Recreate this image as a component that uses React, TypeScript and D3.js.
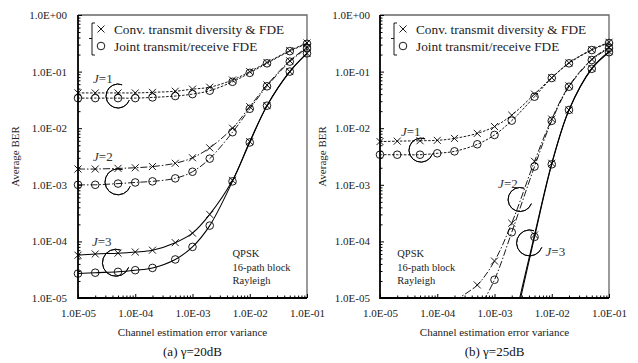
import React, { useRef, useEffect } from 'react';
import * as d3 from 'd3';

// channel estimation error variance (x values of every curve)
const variances = [1e-5, 2e-5, 5e-5, 1e-4, 2e-4, 5e-4, 1e-3, 2e-3, 5e-3, 1e-2, 2e-2, 5e-2, 1e-1];
const xTicks = [1e-5, 1e-4, 1e-3, 1e-2, 1e-1];
const yTicks = [1, 1e-1, 1e-2, 1e-3, 1e-4, 1e-5];
const jLabels = ['J=1', 'J=2', 'J=3'];
const legendLabels = ['Conv. transmit diversity & FDE', 'Joint transmit/receive FDE'];
const noteLines = ['QPSK', '16-path block', 'Rayleigh'];
const captions = ['(a) \u03b3=20dB', '(b) \u03b3=25dB'];

// (a) gamma = 20dB
const conv20J1 = [0.042, 0.042, 0.042, 0.042, 0.043, 0.045, 0.049, 0.053, 0.071, 0.1, 0.145, 0.235, 0.32];
const joint20J1 = [0.034, 0.034, 0.034, 0.034, 0.035, 0.037, 0.04, 0.046, 0.066, 0.095, 0.14, 0.23, 0.31];
const conv20J2 = [0.0019, 0.0019, 0.00195, 0.002, 0.0021, 0.0024, 0.003, 0.0045, 0.01, 0.024, 0.058, 0.155, 0.27];
const joint20J2 = [0.001, 0.001, 0.00105, 0.0011, 0.00115, 0.0013, 0.0017, 0.0029, 0.0085, 0.022, 0.055, 0.15, 0.26];
const conv20J3 = [5.7e-5, 6.0e-5, 6.2e-5, 6.5e-5, 7.0e-5, 9.5e-5, 1.4e-4, 3.0e-4, 1.2e-3, 5.8e-3, 0.025, 0.1, 0.21];
const joint20J3 = [2.7e-5, 2.8e-5, 2.9e-5, 3.1e-5, 3.4e-5, 4.8e-5, 8.0e-5, 1.9e-4, 1.15e-3, 5.6e-3, 0.025, 0.1, 0.21];

// (b) gamma = 25dB (null = not simulated)
const conv25J1 = [0.0058, 0.0059, 0.006, 0.0061, 0.0066, 0.0081, 0.0107, 0.017, 0.04, 0.078, 0.143, 0.245, 0.33];
const joint25J1 = [0.0034, 0.0034, 0.0034, 0.0036, 0.0039, 0.0052, 0.0076, 0.0136, 0.036, 0.077, 0.14, 0.24, 0.32];
const conv25J2 = [null, null, null, null, 9e-6, 1.7e-5, 4.5e-5, 2.1e-4, 2.6e-3, 0.0145, 0.056, 0.165, 0.27];
const joint25J2 = [null, null, null, null, null, 5.6e-6, 2.1e-5, 1.45e-4, 2.1e-3, 0.0135, 0.054, 0.16, 0.26];
const conv25J3 = [null, null, null, null, null, null, null, 2.5e-6, 1.3e-4, 2.4e-3, 0.021, 0.114, 0.225];
const joint25J3 = [null, null, null, null, null, null, null, 2.0e-6, 1.2e-4, 2.3e-3, 0.021, 0.112, 0.22];

const panelData = [
  { conv: [conv20J1, conv20J2, conv20J3], joint: [joint20J1, joint20J2, joint20J3] },
  { conv: [conv25J1, conv25J2, conv25J3], joint: [joint25J1, joint25J2, joint25J3] },
];

// where the J= circles sit (data coords) and label offsets in px
const annot = [
  [
    { x: 5e-5, y: 0.037, r: 12, lx: -25, ly: -13 },
    { x: 5e-5, y: 0.00113, r: 13, lx: -25, ly: -21 },
    { x: 4.6e-5, y: 4.2e-5, r: 13.5, lx: -24, ly: -17 },
  ],
  [
    { x: 5.2e-5, y: 0.0041, r: 12, lx: -20, ly: -14.5 },
    { x: 2.8e-3, y: 5.5e-4, r: 12, lx: -22, ly: -11.5 },
    { x: 4.1e-3, y: 9.4e-5, r: 13, lx: 16, ly: 13 },
  ],
];

const W = 638;
const H = 363;
const top = 15;
const bottom = 298;
const plotW = 229;
const lefts = [78, 380];
const noteX = [5e-3, 2e-5];
const dashes = ['2.5,1.5', '7,2,1.5,2', null];
const serif = "'Liberation Serif', 'Times New Roman', serif";

const crossPath = 'M-3.5,-3.5L3.5,3.5M-3.5,3.5L3.5,-3.5';

const App: React.FC = () => {
  const svgRef = useRef<SVGSVGElement>(null);

  useEffect(() => {
    if (!svgRef.current) return;
    const svg = d3.select(svgRef.current);
    svg.selectAll('*').remove();

    panelData.forEach((pd, pi) => {
      const x0 = lefts[pi];
      const x = d3.scaleLog().domain([1e-5, 1e-1]).range([x0, x0 + plotW]);
      const y = d3.scaleLog().domain([1e-5, 1]).range([bottom, top]);
      const g = svg.append('g').style('font-family', serif);

      const clipId = `clip${pi}`;
      svg.append('clipPath').attr('id', clipId)
        .append('rect').attr('x', x0).attr('y', top).attr('width', plotW).attr('height', bottom - top);

      // frame
      g.append('path')
        .attr('d', `M${x0},${top}H${x0 + plotW}V${bottom}`)
        .attr('fill', 'none').attr('stroke', '#666').attr('stroke-width', 1.3);

      // minor ticks
      const yMinor: number[] = [];
      for (let e = -5; e < 0; e++) for (let m = 2; m <= 9; m++) yMinor.push(m * Math.pow(10, e));
      const xMinor: number[] = [];
      for (let e = -5; e < -1; e++) for (let m = 2; m <= 9; m++) xMinor.push(m * Math.pow(10, e));

      const yAxisMinor = g.append('g').attr('transform', `translate(${x0},0)`)
        .call(d3.axisLeft(y).tickValues(yMinor).tickSize(-2.5).tickFormat(() => ''));
      yAxisMinor.select('.domain').remove();
      const yAxis = g.append('g').attr('transform', `translate(${x0},0)`)
        .call(d3.axisLeft(y).tickValues(yTicks).tickSize(-4).tickPadding(pi === 0 ? 11 : 10)
          .tickFormat((d: any) => {
            const e = Math.round(Math.log10(d));
            return '1.0E' + (e === 0 ? '+00' : '-0' + Math.abs(e));
          }));
      yAxis.select('.domain').remove();
      yAxis.selectAll('text').attr('font-size', 11).style('font-family', serif).attr('fill', '#222');

      const xAxisMinor = g.append('g').attr('transform', `translate(0,${bottom})`)
        .call(d3.axisBottom(x).tickValues(xMinor).tickSize(-2.5).tickFormat(() => ''));
      xAxisMinor.select('.domain').remove();
      const xAxis = g.append('g').attr('transform', `translate(0,${bottom})`)
        .call(d3.axisBottom(x).tickValues(xTicks).tickSize(-4).tickPadding(11)
          .tickFormat((d: any) => '1.0E-0' + Math.abs(Math.round(Math.log10(d)))));
      xAxis.select('.domain').remove();
      xAxis.selectAll('text').attr('font-size', 11).style('font-family', serif).attr('fill', '#222');

      // left/bottom axis lines
      g.append('path')
        .attr('d', `M${x0},${top}V${bottom}H${x0 + plotW}`)
        .attr('fill', 'none').attr('stroke', '#000').attr('stroke-width', 1.8);

      // curves
      const line = d3.line<[number, number | null]>()
        .defined(d => d[1] != null)
        .x(d => x(d[0]))
        .y(d => y(d[1] as number))
        .curve(d3.curveCatmullRom.alpha(0.5));

      const curves = g.append('g').attr('clip-path', `url(#${clipId})`);
      [pd.conv, pd.joint].forEach(set => {
        set.forEach((vals, j) => {
          const pts = variances.map((v, i) => [v, vals[i]] as [number, number | null]);
          curves.append('path')
            .attr('d', line(pts))
            .attr('fill', 'none')
            .attr('stroke', '#000')
            .attr('stroke-width', j === 2 ? 1.05 : 0.9)
            .attr('stroke-dasharray', dashes[j]);
        });
      });

      // markers
      const inside = (v: number | null) => v != null && v >= 1e-5 && v <= 1;
      pd.conv.forEach(vals => {
        variances.forEach((v, i) => {
          if (!inside(vals[i])) return;
          g.append('path')
            .attr('d', crossPath)
            .attr('transform', `translate(${x(v)},${y(vals[i] as number)})`)
            .attr('stroke', '#000').attr('stroke-width', 0.9);
        });
      });
      pd.joint.forEach(vals => {
        variances.forEach((v, i) => {
          if (!inside(vals[i])) return;
          g.append('circle')
            .attr('cx', x(v)).attr('cy', y(vals[i] as number)).attr('r', 3.8)
            .attr('fill', 'none').attr('stroke', '#000').attr('stroke-width', 0.9);
        });
      });

      // J annotations
      const arc = d3.arc<any>()
        .innerRadius(d => d.r).outerRadius(d => d.r)
        .startAngle((110 * Math.PI) / 180).endAngle((380 * Math.PI) / 180);
      annot[pi].forEach((a, j) => {
        const cx = x(a.x);
        const cy = y(a.y);
        g.append('path')
          .attr('d', arc(a))
          .attr('transform', `translate(${cx},${cy})`)
          .attr('fill', 'none').attr('stroke', '#000').attr('stroke-width', 0.9);
        const t = g.append('text')
          .attr('x', cx + a.lx).attr('y', cy + a.ly)
          .attr('font-size', 13).attr('fill', '#333');
        t.append('tspan').attr('font-style', 'italic').text(jLabels[j].slice(0, 1));
        t.append('tspan').text(jLabels[j].slice(1));
      });

      // legend
      const lgx = x0 + 14;
      g.append('path')
        .attr('d', `M${lgx + 3},${23}H${lgx}V${55}H${lgx + 3}M${lgx},${38.5}H${lgx - 3}`)
        .attr('fill', 'none').attr('stroke', '#000').attr('stroke-width', 0.9);
      g.append('path').attr('d', crossPath).attr('transform', `translate(${lgx + 9},${29})`)
        .attr('stroke', '#000').attr('stroke-width', 0.9);
      g.append('circle').attr('cx', lgx + 9).attr('cy', 46).attr('r', 3.8)
        .attr('fill', 'none').attr('stroke', '#000').attr('stroke-width', 0.9);
      legendLabels.forEach((lbl, i) => {
        g.append('text').attr('x', lgx + 22).attr('y', 33.5 + i * 17)
          .attr('font-size', 13.3).attr('fill', '#222').text(lbl);
      });

      // notes
      noteLines.forEach((s, i) => {
        g.append('text').attr('x', x(noteX[pi])).attr('y', 257 + i * 13.5)
          .attr('font-size', 10.5).attr('fill', '#222').text(s);
      });

      // axis titles
      g.append('text')
        .attr('transform', `translate(${x0 - (pi === 0 ? 59 : 54)},${(top + bottom) / 2}) rotate(-90)`)
        .attr('text-anchor', 'middle').attr('font-size', 11).attr('fill', '#222')
        .text('Average BER');
      g.append('text')
        .attr('x', x0 + plotW / 2).attr('y', 336)
        .attr('text-anchor', 'middle').attr('font-size', 11).attr('fill', '#222')
        .text('Channel estimation error variance');
      g.append('text')
        .attr('x', x0 + plotW / 2).attr('y', 356)
        .attr('text-anchor', 'middle').attr('font-size', 13).attr('fill', '#111')
        .text(captions[pi]);
    });
  }, []);

  return (
    <div style={{ position: 'fixed', left: 0, top: 0, background: '#fff' }}>
      <svg ref={svgRef} width={W} height={H} style={{ display: 'block' }} />
    </div>
  );
};

export default App;
